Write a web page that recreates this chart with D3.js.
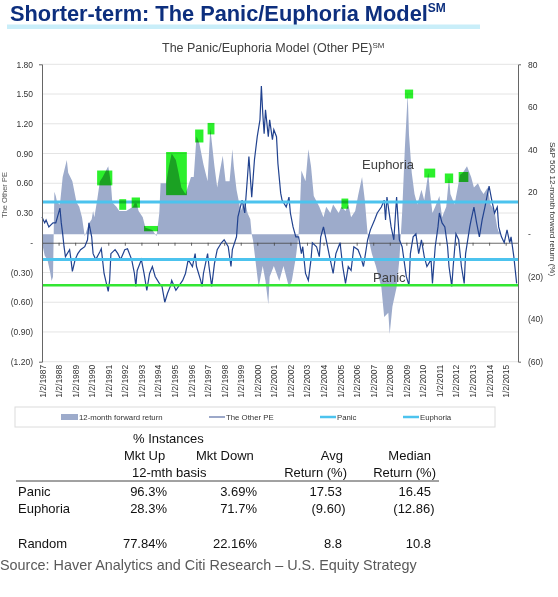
<!DOCTYPE html>
<html>
<head>
<meta charset="utf-8">
<script src="https://cdn.jsdelivr.net/npm/d3@7"></script>
<style>
  body { margin: 0; background: #fff; }
  svg text { font-family: "Liberation Sans", Arial, sans-serif; }
</style>
</head>
<body>
<div id="chart"></div>
<script>
// the other PE (left axis)
var peDates = [
  "1987-01", "1987-03", "1987-04", "1987-06", "1987-09", "1987-11",
  "1988-02", "1988-03", "1988-04", "1988-05", "1988-06", "1988-09", "1988-10", "1988-11",
  "1989-01", "1989-03", "1989-05", "1989-08", "1989-10", "1989-11",
  "1990-01", "1990-02", "1990-04", "1990-07", "1990-08", "1990-10",
  "1991-01", "1991-02", "1991-03", "1991-06", "1991-08", "1991-10",
  "1992-01", "1992-03", "1992-06", "1992-08", "1992-09", "1992-10",
  "1993-01", "1993-03", "1993-05", "1993-07", "1993-09", "1993-11",
  "1994-02", "1994-04", "1994-06", "1994-08", "1994-10", "1994-11",
  "1995-02", "1995-04", "1995-07", "1995-09", "1995-11",
  "1996-02", "1996-04", "1996-05", "1996-08", "1996-09", "1996-10",
  "1997-01", "1997-02", "1997-04", "1997-06", "1997-08", "1997-11",
  "1998-01", "1998-04", "1998-06", "1998-07", "1998-10", "1998-11",
  "1999-02", "1999-04", "1999-06", "1999-07", "1999-09", "1999-11",
  "2000-01", "2000-03", "2000-04", "2000-05", "2000-06", "2000-07", "2000-09", "2000-10", "2000-12",
  "2001-01", "2001-03", "2001-04", "2001-06", "2001-07", "2001-10", "2001-12",
  "2002-01", "2002-03", "2002-05", "2002-07", "2002-09", "2002-10", "2002-12",
  "2003-02", "2003-04", "2003-05", "2003-08", "2003-10", "2003-11",
  "2004-01", "2004-03", "2004-05", "2004-07", "2004-08", "2004-10",
  "2005-01", "2005-03", "2005-05", "2005-07", "2005-09", "2005-11",
  "2006-02", "2006-04", "2006-06", "2006-09", "2006-11",
  "2007-02", "2007-04", "2007-07", "2007-09", "2007-10", "2007-11",
  "2008-02", "2008-04", "2008-06", "2008-08", "2008-10",
  "2009-01", "2009-03", "2009-04", "2009-06", "2009-08", "2009-10", "2009-12",
  "2010-02", "2010-04", "2010-07", "2010-08", "2010-10", "2010-12",
  "2011-01", "2011-03", "2011-05", "2011-07", "2011-08", "2011-10", "2011-11",
  "2012-01", "2012-03", "2012-05", "2012-07", "2012-08", "2012-11", "2012-12",
  "2013-02", "2013-04", "2013-06", "2013-08", "2013-10", "2013-12",
  "2014-01", "2014-03", "2014-05", "2014-07", "2014-08", "2014-10", "2014-12",
  "2015-02", "2015-04", "2015-05", "2015-07", "2015-09"
];
var peValues = [
  0.26, 0.20, 0.23, 0.16, 0.20, 0.20,
  0.35, 0.20, 0.09, -0.04, -0.14, -0.07, -0.17, -0.29,
  -0.17, -0.11, -0.07, -0.04, 0.03, 0.20,
  0.06, -0.11, -0.17, -0.09, -0.06, -0.31,
  -0.49, -0.38, -0.11, -0.07, -0.11, -0.17,
  -0.07, -0.06, -0.17, -0.31, -0.44, -0.28,
  -0.17, -0.31, -0.48, -0.31, -0.24, -0.34,
  -0.41, -0.44, -0.60, -0.51, -0.44, -0.38,
  -0.48, -0.44, -0.38, -0.31, -0.17,
  -0.24, -0.11, -0.24, -0.38, -0.44, -0.31,
  -0.11, -0.24, -0.44, -0.21, -0.07, 0.00,
  0.03, -0.04, -0.24, -0.07, 0.06, 0.26,
  0.43, 0.30, 0.67, 0.87, 0.46, 0.84,
  1.07, 1.24, 1.58, 1.31, 1.10, 1.34, 1.07, 1.24, 1.04,
  1.14, 1.07, 0.80, 0.50, 0.43, 0.36, 0.46,
  0.30, 0.16, 0.06, 0.06, -0.11, -0.04, -0.31,
  -0.38, -0.17, 0.00, -0.04, -0.14, 0.06,
  0.16, 0.03, -0.11, -0.24, -0.31, -0.11,
  0.00, -0.24, -0.41, -0.24, -0.28, -0.04,
  -0.07, -0.14, -0.24, 0.03, 0.13,
  0.23, 0.30, 0.36, 0.43, 0.23, 0.46,
  0.16, 0.03, 0.46, 0.03, -0.04,
  -0.34, -0.43, -0.11, 0.06, 0.09, -0.11, 0.03,
  -0.14, -0.24, -0.17, -0.41, -0.04, 0.16,
  0.30, 0.20, 0.16, -0.04, -0.24, -0.44, -0.24,
  0.09, 0.03, -0.24, -0.41, -0.11, 0.16, 0.23,
  0.36, 0.20, 0.06, 0.23, 0.36, 0.50,
  0.57, 0.43, 0.30, 0.36, 0.16, 0.06, 0.00,
  0.13, 0.00, 0.06, -0.14, -0.41
];

// S&P 500 12-month forward return, % (right axis)
var fwdDates = [
  "1987-01", "1987-03", "1987-05", "1987-07", "1987-08", "1987-09", "1987-10", "1987-11", "1987-12",
  "1988-02", "1988-04", "1988-07", "1988-08", "1988-11",
  "1989-02", "1989-04", "1989-06", "1989-08", "1989-11",
  "1990-01", "1990-02", "1990-03", "1990-05", "1990-07", "1990-09",
  "1991-01", "1991-03", "1991-04", "1991-07", "1991-09",
  "1992-02", "1992-07", "1992-09", "1992-11",
  "1993-02", "1993-04", "1993-09", "1993-12",
  "1994-02", "1994-03", "1994-07", "1994-09", "1994-11",
  "1995-02", "1995-04", "1995-06", "1995-09",
  "1996-01", "1996-03", "1996-05", "1996-07", "1996-10",
  "1997-01", "1997-03", "1997-06", "1997-08", "1997-10", "1997-12",
  "1998-02", "1998-05", "1998-07", "1998-08", "1998-10",
  "1999-01", "1999-04", "1999-06", "1999-08", "1999-09", "1999-10",
  "2000-02", "2000-05", "2000-07", "2000-09", "2000-10",
  "2001-01", "2001-05", "2001-08", "2001-12",
  "2002-02", "2002-05", "2002-07", "2002-08", "2002-09", "2002-12",
  "2003-02", "2003-04", "2003-06", "2003-10",
  "2004-01", "2004-03", "2004-06", "2004-08", "2004-12",
  "2005-02", "2005-05", "2005-07", "2005-09", "2005-12",
  "2006-02", "2006-05", "2006-07", "2006-09", "2006-12",
  "2007-03", "2007-07", "2007-09", "2007-12",
  "2008-01", "2008-03", "2008-06", "2008-08", "2008-10", "2008-12",
  "2009-02", "2009-03", "2009-05", "2009-07", "2009-09", "2009-12",
  "2010-02", "2010-05", "2010-06", "2010-08", "2010-10",
  "2011-01", "2011-03", "2011-06", "2011-08", "2011-09", "2011-12",
  "2012-02", "2012-04", "2012-06", "2012-09", "2012-12",
  "2013-02", "2013-05", "2013-07", "2013-09", "2013-12",
  "2014-02", "2014-05", "2014-07", "2014-08", "2014-09"
];
var fwdValues = [
  -4, -10, -12, -18, -22, -20, 20, 18, 15,
  14, 27, 35, 29, 25,
  15, 13, 8, -1, 5,
  7, 11, 8, 16, 25, 27,
  32, 24, 15, 13, 11,
  11, 13, 16, 11,
  8, 3, 2, -1,
  10, 24, 24, 32, 38,
  35, 29, 22, 19,
  27, 27, 46, 43, 33,
  25, 50, 32, 22, 30, 37,
  25, 25, 40, 32, 21,
  11, 16, 10, 7, 0, -3,
  -25, -15, -22, -33, -20,
  -15, -22, -15, -25,
  -22, -11, 0, 13, 30, 25,
  40, 32, 18, 13,
  8, 13, 10, 14, 10,
  13, 11, 14, 8, 11,
  18, 27, 16, 0, -9,
  -15, -25, -39, -37,
  -47, -34, -25, -12, 10, 41,
  66, 47, 29, 19, 14, 21,
  16, 29, 21, 10, 13,
  18, 8, 13, 27, 19, 14,
  21, 28, 29, 32, 27,
  22, 24, 21, 19, 22,
  14, 11, 3, 1, 2
];

// threshold levels on the other PE axis
var euphoriaLevel = 0.41;
var panicLevel = -0.17;
var deepPanicLevel = -0.43;

// green highlight boxes (dates and forward-return range)
var boxStart = ["1990-05", "1991-09", "1992-06", "1993-03", "1994-07", "1996-04", "1997-01", "2005-02", "2008-12", "2010-02", "2011-05", "2012-03"];
var boxEnd = ["1991-04", "1992-02", "1992-12", "1994-01", "1995-10", "1996-10", "1997-06", "2005-07", "2009-06", "2010-10", "2011-11", "2012-10"];
var boxLow = [23, 11.5, 12.5, 1.4, 18.4, 43.2, 47, 12, 63.9, 26.7, 24.1, 24.6];
var boxHigh = [30, 16.5, 17.3, 3.9, 38.7, 49.3, 52.4, 16.8, 68.1, 30.9, 28.6, 29.3];

// axis ticks
var leftTicks = [1.8, 1.5, 1.2, 0.9, 0.6, 0.3, 0, -0.3, -0.6, -0.9, -1.2];
var rightTicks = [80, 60, 40, 20, 0, -20, -40, -60];
var xTickLabels = [
  "1/2/1987", "1/2/1988", "1/2/1989", "1/2/1990", "1/2/1991", "1/2/1992", "1/2/1993", "1/2/1994",
  "1/2/1995", "1/2/1996", "1/2/1997", "1/2/1998", "1/2/1999", "1/2/2000", "1/2/2001", "1/2/2002",
  "1/2/2003", "1/2/2004", "1/2/2005", "1/2/2006", "1/2/2007", "1/2/2008", "1/2/2009", "1/2/2010",
  "1/2/2011", "1/2/2012", "1/2/2013", "1/2/2014", "1/2/2015"
];

// legend
var legendLabels = ["12-month forward return", "The Other PE", "Panic", "Euphoria"];

// table below the chart
var rowNames = ["Panic", "Euphoria", "Random"];
var mktUp = ["96.3%", "28.3%", "77.84%"];
var mktDown = ["3.69%", "71.7%", "22.16%"];
var avgReturn = ["17.53", "(9.60)", "8.8"];
var medianReturn = ["16.45", "(12.86)", "10.8"];

// constructor for the panic/euphoria chart
function PanicChart() {
  var self = this;
  self.plot = { left: 42, right: 518, top: 64.3, bottom: 361.7 }; // plot box
  self.init();
}

PanicChart.prototype.init = function () {
  var self = this;
  self.parseMonth = d3.timeParse("%Y-%m");
  self.parseTick = d3.timeParse("%m/%d/%Y");

  self.svg = d3.select("#chart").append("svg")
    .attr("width", 558)
    .attr("height", 597);

  self.x = d3.scaleTime()
    .domain([self.parseMonth("1987-01"), self.parseMonth("2015-10")])
    .range([self.plot.left, self.plot.right]);
  self.yLeft = d3.scaleLinear().domain([-1.2, 1.8]).range([self.plot.bottom, self.plot.top]);
  self.yRight = d3.scaleLinear().domain([-60, 80]).range([self.plot.bottom, self.plot.top]);

  this.update();
};

PanicChart.prototype.update = function () {
  var self = this;
  var svg = self.svg;
  var x = self.x, yL = self.yLeft, yR = self.yRight;
  var p = self.plot;

  var pe = peDates.map(function (d, i) { return { date: self.parseMonth(d), value: peValues[i] }; });
  var fwd = fwdDates.map(function (d, i) { return { date: self.parseMonth(d), value: fwdValues[i] }; });

  // slide title
  var title = svg.append("text")
    .attr("x", 10).attr("y", 20.5)
    .attr("fill", "#0d2f7e")
    .attr("font-size", 21.8)
    .attr("font-weight", "bold")
    .text("Shorter-term: The Panic/Euphoria Model");
  title.append("tspan").attr("font-size", 12).attr("dy", -9).text("SM");

  svg.append("rect")
    .attr("x", 7).attr("y", 24.5)
    .attr("width", 473).attr("height", 4.5)
    .attr("fill", "#c9eef9");

  // chart title
  var chartTitle = svg.append("text")
    .attr("x", 162).attr("y", 52)
    .attr("fill", "#404040")
    .attr("font-size", 12.5)
    .text("The Panic/Euphoria Model (Other PE)");
  chartTitle.append("tspan").attr("font-size", 8).attr("dy", -4).text("SM");

  // gridlines
  svg.append("g").selectAll("line")
    .data(leftTicks.filter(function (d) { return d !== 0; }))
    .enter().append("line")
    .attr("x1", p.left).attr("x2", p.right)
    .attr("y1", function (d) { return yL(d); })
    .attr("y2", function (d) { return yL(d); })
    .attr("stroke", "#e4e4e4");

  // forward return area
  var area = d3.area()
    .x(function (d) { return x(d.date); })
    .y0(yR(0))
    .y1(function (d) { return yR(d.value); });
  svg.append("path").datum(fwd)
    .attr("d", area)
    .attr("fill", "#9dabcb");

  // category axis at zero with year ticks
  var yearDates = xTickLabels.map(function (d) { return self.parseTick(d); });
  var zeroAxis = svg.append("g")
    .attr("transform", "translate(0," + yL(0) + ")")
    .call(d3.axisBottom(x).tickValues(yearDates).tickSizeInner(3).tickSizeOuter(0).tickFormat(""));
  zeroAxis.selectAll("path, line").attr("stroke", "#444").attr("stroke-width", 0.8);

  // date labels at the bottom
  var dateAxis = svg.append("g")
    .attr("transform", "translate(0," + p.bottom + ")")
    .call(d3.axisBottom(x).tickValues(yearDates).tickSize(0)
      .tickFormat(function (d, i) { return xTickLabels[i]; }));
  dateAxis.select(".domain").remove();
  dateAxis.selectAll("text")
    .attr("transform", "rotate(-90)")
    .attr("x", -3).attr("y", 0).attr("dy", "0.35em")
    .style("text-anchor", "end")
    .attr("font-size", 8.5)
    .attr("fill", "#333");

  // other PE line
  var line = d3.line()
    .x(function (d) { return x(d.date); })
    .y(function (d) { return yL(d.value); });
  svg.append("path").datum(pe)
    .attr("d", line)
    .attr("fill", "none")
    .attr("stroke", "#21428f")
    .attr("stroke-width", 1.2);

  // threshold lines
  var levels = [
    { v: euphoriaLevel, color: "#4cc3ee", w: 3 },
    { v: panicLevel, color: "#4cc3ee", w: 3 },
    { v: deepPanicLevel, color: "#33e633", w: 2.5 }
  ];
  svg.append("g").selectAll("line")
    .data(levels)
    .enter().append("line")
    .attr("x1", p.left).attr("x2", p.right)
    .attr("y1", function (d) { return yL(d.v); })
    .attr("y2", function (d) { return yL(d.v); })
    .attr("stroke", function (d) { return d.color; })
    .attr("stroke-width", function (d) { return d.w; });

  // green highlight boxes
  svg.append("g").selectAll("rect")
    .data(boxStart)
    .enter().append("rect")
    .attr("x", function (d) { return x(self.parseMonth(d)); })
    .attr("width", function (d, i) { return x(self.parseMonth(boxEnd[i])) - x(self.parseMonth(d)); })
    .attr("y", function (d, i) { return yR(boxHigh[i]); })
    .attr("height", function (d, i) { return yR(boxLow[i]) - yR(boxHigh[i]); })
    .attr("fill", "#2cf02c")
    .style("mix-blend-mode", "multiply");

  // axes
  function leftFmt(v) {
    if (Math.abs(v) < 1e-9) return "-";
    return v < 0 ? "(" + d3.format(".2f")(-v) + ")" : d3.format(".2f")(v);
  }
  function rightFmt(v) {
    if (v === 0) return "-";
    return v < 0 ? "(" + (-v) + ")" : "" + v;
  }
  var leftAxis = svg.append("g")
    .attr("transform", "translate(" + p.left + ",0)")
    .call(d3.axisLeft(yL).tickValues(leftTicks).tickFormat(leftFmt)
      .tickSizeInner(0).tickSizeOuter(3).tickPadding(9));
  var rightAxis = svg.append("g")
    .attr("transform", "translate(" + p.right + ",0)")
    .call(d3.axisRight(yR).tickValues(rightTicks).tickFormat(rightFmt)
      .tickSizeInner(0).tickSizeOuter(3).tickPadding(10));
  [leftAxis, rightAxis].forEach(function (a) {
    a.select(".domain").attr("stroke", "#666");
    a.selectAll("text").attr("font-size", 8.5).attr("fill", "#333");
  });

  // axis titles
  svg.append("text")
    .attr("transform", "translate(7,195) rotate(-90)")
    .attr("text-anchor", "middle")
    .attr("font-size", 7.5)
    .attr("fill", "#555")
    .text("The Other PE");
  svg.append("text")
    .attr("transform", "translate(550,209) rotate(90)")
    .attr("text-anchor", "middle")
    .attr("font-size", 8)
    .attr("fill", "#333")
    .text("S&P 500 12-month forward return (%)");

  // in-chart labels
  svg.append("text").attr("x", 362).attr("y", 169)
    .attr("font-size", 13).attr("fill", "#404040").text("Euphoria");
  svg.append("text").attr("x", 373).attr("y", 282)
    .attr("font-size", 13).attr("fill", "#404040").text("Panic");

  // legend
  svg.append("rect")
    .attr("x", 15).attr("y", 407)
    .attr("width", 480).attr("height", 20)
    .attr("fill", "none").attr("stroke", "#dcdcdc");
  var legendX = [61, 209, 320, 403];
  var legend = svg.append("g").selectAll("g")
    .data(legendLabels)
    .enter().append("g")
    .attr("transform", function (d, i) { return "translate(" + legendX[i] + ",417)"; });
  legend.each(function (d, i) {
    var g = d3.select(this);
    if (i === 0) {
      g.append("rect").attr("x", 0).attr("y", -3).attr("width", 17).attr("height", 6).attr("fill", "#9dabcb");
    } else {
      g.append("line").attr("x1", 0).attr("x2", 16).attr("y1", 0).attr("y2", 0)
        .attr("stroke", i === 1 ? "#5a6fa6" : "#4cc3ee")
        .attr("stroke-width", i === 1 ? 1.2 : 2.5);
    }
    g.append("text").attr("x", i === 0 ? 18 : 17).attr("y", 2.8)
      .attr("font-size", 7.8).attr("fill", "#333").text(d);
  });

  // table headers
  var headers = [
    { t: "% Instances", x: 133, y: 443, a: "start" },
    { t: "Mkt Up", x: 124, y: 460, a: "start" },
    { t: "Mkt Down", x: 196, y: 460, a: "start" },
    { t: "Avg", x: 343, y: 460, a: "end" },
    { t: "Median", x: 431, y: 460, a: "end" },
    { t: "12-mth basis", x: 132, y: 477, a: "start" },
    { t: "Return (%)", x: 347, y: 477, a: "end" },
    { t: "Return (%)", x: 436, y: 477, a: "end" }
  ];
  svg.append("g").selectAll("text")
    .data(headers)
    .enter().append("text")
    .attr("x", function (d) { return d.x; })
    .attr("y", function (d) { return d.y; })
    .attr("text-anchor", function (d) { return d.a; })
    .attr("font-size", 13)
    .attr("fill", "#111")
    .text(function (d) { return d.t; });

  svg.append("line")
    .attr("x1", 16).attr("x2", 439)
    .attr("y1", 481).attr("y2", 481)
    .attr("stroke", "#444");

  // table rows
  var rowY = [496, 513, 548];
  var columns = [mktUp, mktDown, avgReturn, medianReturn];
  var colRight = [167, 257, 342, 431];
  var rows = svg.append("g").selectAll("g")
    .data(rowNames)
    .enter().append("g")
    .attr("transform", function (d, i) { return "translate(0," + rowY[i] + ")"; });
  rows.append("text").attr("x", 18).attr("font-size", 13).attr("fill", "#111")
    .text(function (d) { return d; });
  rows.each(function (d, i) {
    var g = d3.select(this);
    columns.forEach(function (col, c) {
      var s = col[i];
      var paren = s.charAt(s.length - 1) === ")";
      g.append("text")
        .attr("x", colRight[c] + (paren ? 3.5 : 0))
        .attr("text-anchor", "end")
        .attr("font-size", 13)
        .attr("fill", "#111")
        .text(s);
    });
  });

  // source line
  svg.append("text")
    .attr("x", 0).attr("y", 570)
    .attr("font-size", 14.4)
    .attr("fill", "#595959")
    .text("Source: Haver Analytics and Citi Research \u2013 U.S. Equity Strategy");
};

var chart = new PanicChart();
</script>
</body>
</html>
